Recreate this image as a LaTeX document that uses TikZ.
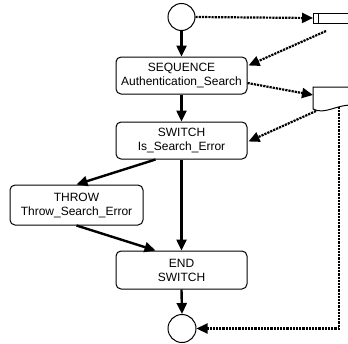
\documentclass[tikz,border=0pt]{standalone}
\usepackage{fontspec}
\setmainfont{Liberation Sans}
\usetikzlibrary{arrows.meta,calc}
\begin{document}
\begin{tikzpicture}[x=1pt,y=-1pt,
  box/.style={draw,line width=1pt,rounded corners=5pt,minimum width=131pt,minimum height=37pt,align=center,font=\fontsize{12}{14}\selectfont,inner sep=0pt},
  st/.style={draw,circle,line width=1pt,minimum size=27pt,inner sep=0pt},
  flow/.style={line width=2.4pt,-{Triangle[length=11pt,width=10pt]}},
  data/.style={line width=2.2pt,densely dotted,-{Triangle[length=11pt,width=10pt]}},
  obj/.style={line width=1pt}
]
\useasboundingbox (0,0) rectangle (348,343);
\clip (0,0) rectangle (348,343);

\node[st] (c1) at (181.5,17) {};
\node[box] (seq) at (181.5,75.5) {SEQUENCE\\Authentication\_Search};
\node[box] (sw) at (181.5,140.5) {SWITCH\\Is\_Search\_Error};
\node[box,minimum width=133pt,minimum height=40pt] (thr) at (76.5,205) {THROW\\Throw\_Search\_Error};
\node[box,minimum height=38pt] (en) at (181.5,270) {END\\SWITCH};
\node[st,minimum size=28pt] (c2) at (182,328.5) {};

% data store object
\node[draw,obj,minimum width=38pt,minimum height=10pt,inner sep=0pt,anchor=west] (store) at (313,18) {};
\draw[obj] (318,13) -- (318,23);
% document object
\draw[obj] (352,87) -- (313,87) -- (313,109) .. controls (325,115) and (335,105) .. (352,105);
\coordinate (docl) at (313,95);
\coordinate (docb) at (339,107);
\coordinate (docsw) at (316,111);
\coordinate (stob) at (326,31);

\draw[flow] (c1.south) -- (seq.north);
\draw[flow] (seq.south) -- (sw.north);
\draw[flow] ($(sw.south)+(-26,0)$) -- (thr.north);
\draw[flow] (sw.south) -- (en.north);
\draw[flow] (thr.south) -- ($(en.north)+(-26,0)$);
\draw[flow] (en.south) -- (c2.north);

\draw[data] (c1.east) -- (store.west);
\draw[data] (stob) -- ($(seq.east)+(1,-10)$);
\draw[data] ($(seq.east)+(0,7.5)$) -- (docl);
\draw[data] (docsw) -- ($(sw.east)+(1,1)$);
\draw[data] (docb) -- (docb |- c2.east) -- (c2.east);
\end{tikzpicture}
\end{document}
